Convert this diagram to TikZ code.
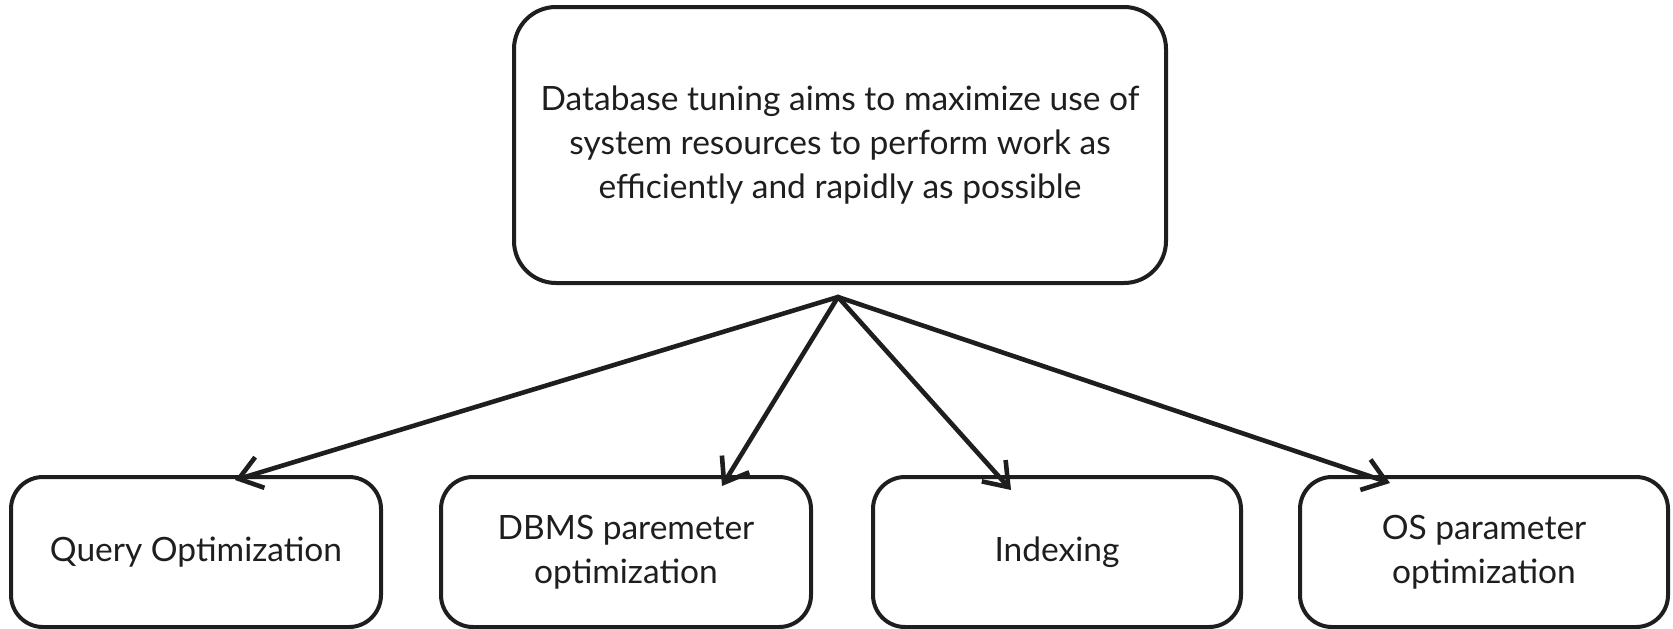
\documentclass[tikz,border=0pt]{standalone}
\usepackage{fontspec}
\setmainfont{Lato}
\usetikzlibrary{arrows.meta}
\definecolor{ink}{HTML}{1E1E1E}
\tikzset{
  box/.style={draw=ink, line width=4pt, rounded corners=#1, text=ink,
    align=center, font=\fontsize{33.5}{44}\selectfont, inner sep=0pt},
  box/.default=32pt,
  link/.style={draw=ink, line width=4.6pt, line cap=round, line join=round,
    -{Straight Barb[length=22pt, width=32pt, line width=4.6pt]}}
}
\begin{document}
\begin{tikzpicture}[x=1pt, y=-1pt]
  \useasboundingbox[fill=white] (0,0) rectangle (1673,629);

  % main statement
  \node[box=42pt, minimum width=652pt, minimum height=276pt] (goal) at (840,145)
    {Database tuning aims to maximize use of\\
     system resources to perform work as\\
     efficiently and rapidly as possible};

  % tuning areas
  \node[box, minimum width=370pt, minimum height=150pt] (query) at (196,552)
    {Query Optimization};
  \node[box, minimum width=370pt, minimum height=150pt] (dbms) at (626,552)
    {DBMS paremeter\\optimization};
  \node[box, minimum width=368pt, minimum height=150pt] (index) at (1057,552)
    {Indexing};
  \node[box, minimum width=368pt, minimum height=150pt] (os) at (1484,552)
    {OS parameter\\optimization};

  % common starting point of the arrows
  \coordinate (hub) at (838,297);

  \draw[link] (hub) -- ([xshift=39pt, yshift=-5pt]query.north);
  \draw[link] (hub) -- ([xshift=96pt, yshift=-11pt]dbms.north);
  \draw[link] (hub) -- ([xshift=-46pt, yshift=-15pt]index.north);
  \draw[link] (hub) -- ([xshift=-94pt, yshift=-8pt]os.north);
\end{tikzpicture}
\end{document}
